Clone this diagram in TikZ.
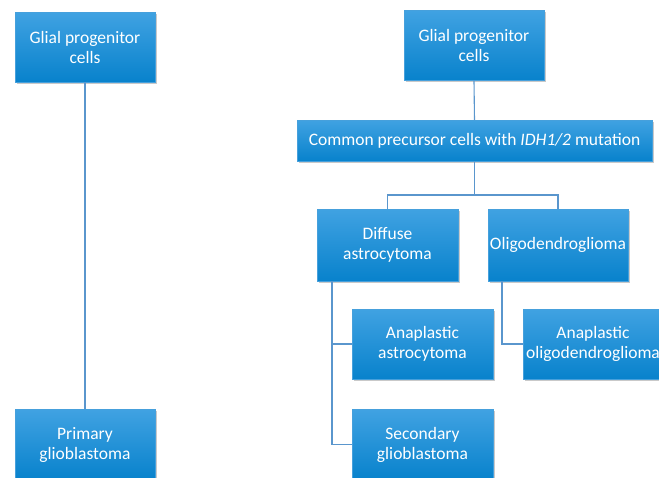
\documentclass[tikz,border=0pt]{standalone}
\usepackage{fontspec}
\setmainfont{Carlito}
\usetikzlibrary{shadows}
\definecolor{boxtop}{RGB}{64,162,226}
\definecolor{boxbot}{RGB}{8,130,204}
\definecolor{boxedge}{RGB}{70,160,220}
\definecolor{linkc}{RGB}{90,150,205}
\tikzset{
  bluebox/.style={rectangle, top color=boxtop, bottom color=boxbot, draw=boxedge, line width=0.4pt,
    text=white, align=center, inner sep=0pt,
    font=\fontsize{17.5}{20}\selectfont,
    drop shadow={shadow xshift=1.5pt, shadow yshift=-1.8pt, opacity=0.35, fill=black!60}},
  link/.style={draw=linkc, line width=1.1pt}
}
\begin{document}
\begin{tikzpicture}[x=1pt,y=-1pt]
\useasboundingbox (0,0) rectangle (659,477);
\fill[white] (0,0) rectangle (659,477);
\clip (0,0) rectangle (659,477);
\node[bluebox, minimum width=140pt, minimum height=70pt] (g1) at (85,47) {Glial progenitor\\cells};
\node[bluebox, minimum width=140pt, minimum height=70pt] (prim) at (85,444.5) {Primary\\glioblastoma};
\node[bluebox, minimum width=140pt, minimum height=70pt] (g2) at (474,45.5) {Glial progenitor\\cells};
\node[bluebox, minimum width=355pt, minimum height=41pt] (common) at (474.5,140.5) {Common precursor cells with \textit{IDH1/2} mutation};
\node[bluebox, minimum width=141pt, minimum height=72pt] (diffuse) at (387.5,245) {Diffuse\\astrocytoma};
\node[bluebox, minimum width=140pt, minimum height=72pt] (oligo) at (558,245) {Oligodendroglioma};
\node[bluebox, minimum width=141pt, minimum height=70pt] (anastro) at (422.5,344) {Anaplastic\\astrocytoma};
\node[bluebox, minimum width=140pt, minimum height=70pt] (anoligo) at (593,344) {Anaplastic\\oligodendroglioma};
\node[bluebox, minimum width=141pt, minimum height=70pt] (sec) at (422.5,444.5) {Secondary\\glioblastoma};
\coordinate (split) at (474.5,195);
\draw[link] (g1.south) -- (prim.north);
\draw[link] (g2.south) -- (common.north);
\draw[link] (common.south) -- (split);
\draw[link] (diffuse.north) |- (split) -| (oligo.north);
\draw[link] ([xshift=-55.5pt]diffuse.south) |- (anastro.west);
\draw[link] ([xshift=-55.5pt]diffuse.south) |- (sec.west);
\draw[link] ([xshift=-56pt]oligo.south) |- (anoligo.west);
\end{tikzpicture}
\end{document}
